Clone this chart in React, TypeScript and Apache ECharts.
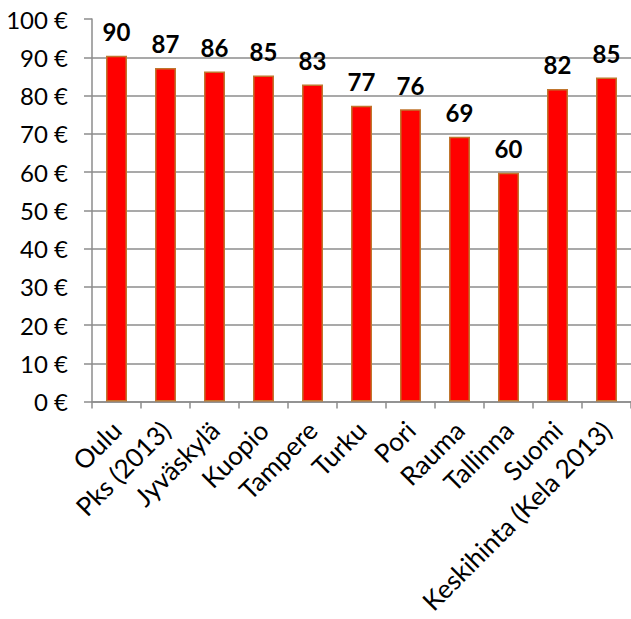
import React, { useEffect, useRef } from "react";
import * as echarts from "echarts";

const categories = [
  "Oulu",
  "Pks (2013)",
  "Jyväskylä",
  "Kuopio",
  "Tampere",
  "Turku",
  "Pori",
  "Rauma",
  "Tallinna",
  "Suomi",
  "Keskihinta (Kela 2013)",
];
const prices = [90.4, 87.2, 86.3, 85.2, 82.9, 77.3, 76.4, 69.2, 59.8, 81.7, 84.7];

export default function App() {
  const ref = useRef<HTMLDivElement>(null);
  useEffect(() => {
    if (!ref.current) return;
    const chart = echarts.init(ref.current, undefined, { renderer: "svg" });
    const gray = "#8c8c8c";
    const font = "Lato, 'Open Sans', sans-serif";
    chart.setOption({
      animation: false,
      textStyle: { fontFamily: font },
      grid: { left: 92, top: 19, width: 541, height: 382.5, containLabel: false },
      xAxis: {
        type: "category",
        data: categories,
        axisLine: { lineStyle: { color: gray, width: 1.5 } },
        axisTick: { show: true, length: 7, lineStyle: { color: gray, width: 1.5 } },
        axisLabel: {
          rotate: 45,
          interval: 0,
          margin: 24,
          color: "#000",
          fontSize: 26,
          fontFamily: font,
        },
      },
      yAxis: {
        type: "value",
        min: 0,
        max: 100,
        interval: 10,
        axisLine: { show: true, lineStyle: { color: gray, width: 1.5 } },
        axisTick: { show: true, length: 8, lineStyle: { color: gray, width: 1.5 } },
        splitLine: { show: true, showMaxLine: false, lineStyle: { color: gray, width: 1.5 } },
        axisLabel: {
          color: "#000",
          fontSize: 24,
          fontFamily: font,
          margin: 24,
          formatter: (v: number) => `${v} €`,
        },
      },
      series: [
        {
          type: "bar",
          data: prices,
          barWidth: 21,
          itemStyle: { color: "#ff0000", borderColor: "#c0762e", borderWidth: 1.5 },
          label: {
            show: true,
            position: "top",
            distance: 12,
            color: "#000",
            fontSize: 24,
            fontWeight: "bold",
            fontFamily: font,
            formatter: (p: any) => `${Math.round(p.value)}`,
          },
        },
      ],
    });
    return () => chart.dispose();
  }, []);
  return (
    <div
      ref={ref}
      style={{ position: "absolute", left: 0, top: 0, width: 631, height: 619 }}
    />
  );
}
